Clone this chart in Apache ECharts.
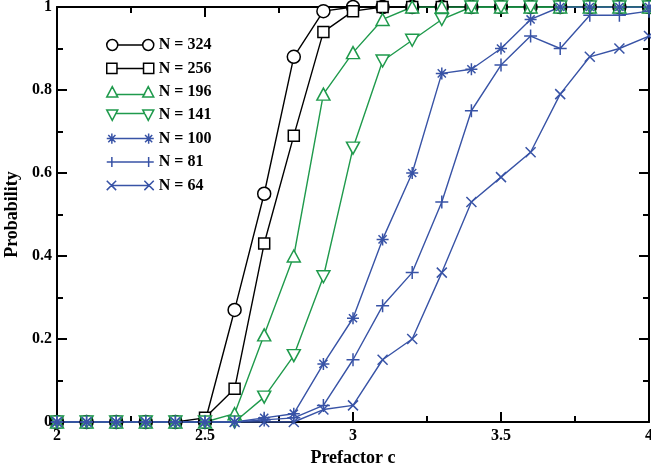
<!DOCTYPE html>
<html>
<head>
<meta charset="utf-8">
<script src="https://cdn.jsdelivr.net/npm/echarts@6/dist/echarts.min.js"></script>
<style>
html,body{margin:0;padding:0;background:#fff;}
#chart{width:651px;height:467px;}
</style>
</head>
<body>
<div id="chart"></div>
<script>
// ---- data ----
var cValues = [2.0, 2.1, 2.2, 2.3, 2.4, 2.5, 2.6, 2.7, 2.8, 2.9, 3.0, 3.1, 3.2, 3.3, 3.4, 3.5, 3.6, 3.7, 3.8, 3.9, 4.0];
var seriesNames = ['N = 324', 'N = 256', 'N = 196', 'N = 141', 'N = 100', 'N = 81', 'N = 64'];
var n324 = [0, 0, 0, 0, 0, 0.00, 0.27, 0.55, 0.88, 0.99, 1.00, 1.00, 1.00, 1.00, 1.00, 1.00, 1.00, 1.00, 1.00, 1.00, 1.00];
var n256 = [0, 0, 0, 0, 0, 0.01, 0.08, 0.43, 0.69, 0.94, 0.99, 1.00, 1.00, 1.00, 1.00, 1.00, 1.00, 1.00, 1.00, 1.00, 1.00];
var n196 = [0, 0, 0, 0, 0, 0.00, 0.02, 0.21, 0.40, 0.79, 0.89, 0.97, 1.00, 1.00, 1.00, 1.00, 1.00, 1.00, 1.00, 1.00, 1.00];
var n141 = [0, 0, 0, 0, 0, 0.00, 0.00, 0.06, 0.16, 0.35, 0.66, 0.87, 0.92, 0.97, 1.00, 1.00, 1.00, 1.00, 1.00, 1.00, 1.00];
var n100 = [0, 0, 0, 0, 0, 0.00, 0.00, 0.01, 0.02, 0.14, 0.25, 0.44, 0.60, 0.84, 0.85, 0.90, 0.97, 1.00, 1.00, 1.00, 1.00];
var n81  = [0, 0, 0, 0, 0, 0.00, 0.00, 0.005, 0.01, 0.04, 0.15, 0.28, 0.36, 0.53, 0.75, 0.86, 0.93, 0.90, 0.98, 0.98, 0.99];
var n64  = [0, 0, 0, 0, 0, 0.00, 0.00, 0.00, 0.00, 0.03, 0.04, 0.15, 0.20, 0.36, 0.53, 0.59, 0.65, 0.79, 0.88, 0.90, 0.93];
var xTicks = [2, 2.5, 3, 3.5, 4];
var yTicks = [0, 0.2, 0.4, 0.6, 0.8, 1];

// ---- styling ----
var BLACK = '#000000', GREEN = '#1f9a4c', BLUE = '#3853a6';
var FONT = '"Liberation Serif", "Times New Roman", serif';

var symDown = 'path://M0,0L10,0L5,8.66Z';
var symAst = 'path://M5,0L5,10M0,5L10,5M1.6,1.6L8.4,8.4M1.6,8.4L8.4,1.6';
var symPlus = 'path://M5,0L5,10M0,5L10,5';
var symX = 'path://M0,0L10,10M0,10L10,0';

var legendIcons = {
  circle: 'path://M0.5,6A5.5,5.5 0 1 1 11.5,6A5.5,5.5 0 1 1 0.5,6ZM11.5,6L36.5,6M36.5,6A5.5,5.5 0 1 1 47.5,6A5.5,5.5 0 1 1 36.5,6Z',
  rect: 'path://M1,1L11,1L11,11L1,11ZM11,6L37,6M37,1L47,1L47,11L37,11Z',
  up: 'path://M6,0.5L11.5,11L0.5,11ZM9,8.5L39,8.5M42,0.5L47.5,11L36.5,11Z',
  down: 'path://M0.5,1L11.5,1L6,11.5ZM9,4.5L39,4.5M36.5,1L47.5,1L42,11.5Z',
  ast: 'path://M6,1L6,11M1,6L11,6M2.5,2.5L9.5,9.5M2.5,9.5L9.5,2.5M6,6L42,6M42,1L42,11M37,6L47,6M38.5,2.5L45.5,9.5M38.5,9.5L45.5,2.5',
  plus: 'path://M6,1L6,11M1,6L47,6M42,1L42,11',
  x: 'path://M1.5,1.5L10.5,10.5M1.5,10.5L10.5,1.5M6,6L42,6M37.5,1.5L46.5,10.5M37.5,10.5L46.5,1.5'
};

var defs = [
  {name: seriesNames[0], data: n324, color: BLACK, symbol: 'circle', size: 13, icon: legendIcons.circle},
  {name: seriesNames[1], data: n256, color: BLACK, symbol: 'rect', size: 11, icon: legendIcons.rect},
  {name: seriesNames[2], data: n196, color: GREEN, symbol: 'triangle', size: [13, 12], icon: legendIcons.up},
  {name: seriesNames[3], data: n141, color: GREEN, symbol: symDown, size: [13, 12], icon: legendIcons.down},
  {name: seriesNames[4], data: n100, color: BLUE, symbol: symAst, size: 12, icon: legendIcons.ast},
  {name: seriesNames[5], data: n81, color: BLUE, symbol: symPlus, size: 13, icon: legendIcons.plus},
  {name: seriesNames[6], data: n64, color: BLUE, symbol: symX, size: 10, icon: legendIcons.x}
];

var series = defs.map(function (d) {
  return {
    name: d.name,
    type: 'line',
    xAxisIndex: 0,
    yAxisIndex: 0,
    data: cValues.map(function (c, i) { return [c, d.data[i]]; }),
    symbol: d.symbol,
    symbolSize: d.size,
    showAllSymbol: true,
    lineStyle: {color: d.color, width: 1.4},
    itemStyle: {color: '#ffffff', borderColor: d.color, borderWidth: 1.5},
    emphasis: {disabled: true},
    animation: false
  };
});

var legendData = defs.map(function (d) {
  return {
    name: d.name,
    icon: d.icon,
    itemStyle: {color: '#ffffff', borderColor: d.color, borderWidth: 1.5}
  };
});

var tickLabel = {fontFamily: FONT, fontWeight: 'bold', fontSize: 16, color: '#000'};
var axisLine = {show: true, onZero: false, lineStyle: {color: '#000', width: 2}};

var chart = echarts.init(document.getElementById('chart'), null, {renderer: 'canvas'});
chart.setOption({
  animation: false,
  backgroundColor: '#ffffff',
  grid: {left: 57, right: 2, top: 7, bottom: 45, containLabel: false, outerBoundsMode: 'none'},
  legend: {
    data: legendData,
    orient: 'vertical',
    left: 106,
    top: 37,
    padding: 0,
    itemWidth: 47,
    itemHeight: 11,
    itemGap: 7.4,
    selectedMode: false,
    textStyle: {fontFamily: FONT, fontWeight: 'bold', fontSize: 16, color: '#000'}
  },
  xAxis: [
    {
      type: 'value', min: xTicks[0], max: xTicks[xTicks.length - 1], interval: 0.5,
      name: 'Prefactor c', nameLocation: 'middle', nameGap: 19,
      nameTextStyle: {fontFamily: FONT, fontWeight: 'bold', fontSize: 18, color: '#000'},
      axisLine: axisLine,
      axisTick: {show: true, inside: true, length: 10, lineStyle: {color: '#000', width: 2}},
      minorTick: {show: true, splitNumber: 2, length: 6, lineStyle: {color: '#000', width: 2}},
      splitLine: {show: false},
      axisLabel: Object.assign({margin: 6, formatter: function (v) { return String(v); }}, tickLabel)
    },
    {
      type: 'value', position: 'top', min: xTicks[0], max: xTicks[xTicks.length - 1], interval: 0.5,
      axisLine: axisLine,
      axisTick: {show: true, inside: true, length: 10, lineStyle: {color: '#000', width: 2}},
      minorTick: {show: true, splitNumber: 2, length: 6, lineStyle: {color: '#000', width: 2}},
      splitLine: {show: false},
      axisLabel: {show: false}
    }
  ],
  yAxis: [
    {
      type: 'value', min: yTicks[0], max: yTicks[yTicks.length - 1], interval: 0.2,
      name: 'Probability', nameLocation: 'middle', nameGap: 33,
      nameTextStyle: {fontFamily: FONT, fontWeight: 'bold', fontSize: 18, color: '#000'},
      axisLine: axisLine,
      axisTick: {show: true, inside: true, length: 10, lineStyle: {color: '#000', width: 2}},
      minorTick: {show: true, splitNumber: 2, length: 6, lineStyle: {color: '#000', width: 2}},
      splitLine: {show: false},
      axisLabel: Object.assign({margin: 5, formatter: function (v) { return String(+v.toFixed(1)); }}, tickLabel)
    },
    {
      type: 'value', position: 'right', min: yTicks[0], max: yTicks[yTicks.length - 1], interval: 0.2,
      axisLine: axisLine,
      axisTick: {show: true, inside: true, length: 10, lineStyle: {color: '#000', width: 2}},
      minorTick: {show: true, splitNumber: 2, length: 6, lineStyle: {color: '#000', width: 2}},
      splitLine: {show: false},
      axisLabel: {show: false}
    }
  ],
  series: series
});
</script>
</body>
</html>
